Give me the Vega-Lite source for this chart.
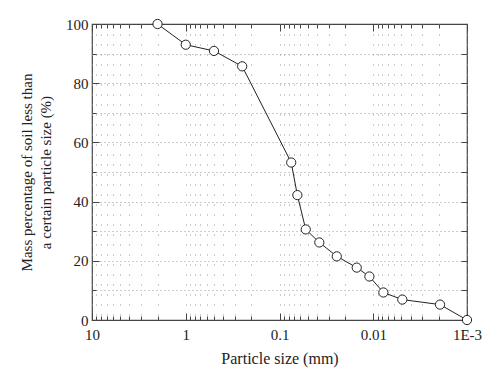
{
  "$schema": "https://vega.github.io/schema/vega-lite/v6.json",
  "width": 375,
  "height": 296,
  "autosize": "none",
  "padding": {"left": 92, "top": 24, "right": 33, "bottom": 64},
  "background": "white",
  "config": {
    "view": {"stroke": "#444", "strokeWidth": 1.2},
    "axis": {
      "labelFont": "Liberation Serif",
      "titleFont": "Liberation Serif",
      "labelFontSize": 15,
      "titleFontSize": 16,
      "titleFontWeight": "normal",
      "labelColor": "#222",
      "titleColor": "#222",
      "tickColor": "#444",
      "domain": false
    }
  },
  "data": {
    "values": [
      {"size": 2.0, "pct": 100},
      {"size": 1.0, "pct": 93.0},
      {"size": 0.5, "pct": 90.9},
      {"size": 0.25, "pct": 85.7},
      {"size": 0.075, "pct": 53.2},
      {"size": 0.0645, "pct": 42.2},
      {"size": 0.0525, "pct": 30.6},
      {"size": 0.0376, "pct": 26.2},
      {"size": 0.0245, "pct": 21.5},
      {"size": 0.015, "pct": 17.7},
      {"size": 0.011, "pct": 14.7},
      {"size": 0.0078, "pct": 9.3},
      {"size": 0.0049, "pct": 6.9},
      {"size": 0.00194, "pct": 5.2},
      {"size": 0.001, "pct": 0}
    ]
  },
  "resolve": {"axis": {"x": "independent", "y": "independent"}},
  "layer": [
    {
      "mark": {"type": "point", "opacity": 0},
      "encoding": {
        "x": {
          "field": "size", "type": "quantitative",
          "scale": {"type": "log", "domain": [0.001, 10], "reverse": true, "nice": false},
          "axis": {
            "orient": "bottom", "title": null, "labels": false,
            "values": [10,9,8,7,6,5,4,3,2,1,0.9,0.8,0.7,0.6,0.5,0.4,0.3,0.2,0.1,0.09,0.08,0.07,0.06,0.05,0.04,0.03,0.02,0.01,0.009,0.008,0.007,0.006,0.005,0.004,0.003,0.002,0.001],
            "tickSize": -4, "grid": true, "gridColor": "#999", "gridDash": [1, 9], "gridWidth": 1
          }
        },
        "y": {
          "field": "pct", "type": "quantitative",
          "scale": {"domain": [0, 100], "nice": false},
          "axis": {
            "orient": "right", "title": null, "labels": false,
            "values": [10,20,30,40,50,60,70,80,90],
            "tickSize": -6, "grid": true, "gridColor": "#999", "gridDash": [1, 3], "gridWidth": 1
          }
        }
      }
    },
    {
      "mark": {"type": "point", "opacity": 0},
      "encoding": {
        "x": {
          "field": "size", "type": "quantitative",
          "axis": {
            "orient": "top", "title": null, "labels": false,
            "values": [10,9,8,7,6,5,4,3,2,1,0.9,0.8,0.7,0.6,0.5,0.4,0.3,0.2,0.1,0.09,0.08,0.07,0.06,0.05,0.04,0.03,0.02,0.01,0.009,0.008,0.007,0.006,0.005,0.004,0.003,0.002,0.001],
            "tickSize": -4, "grid": false
          }
        },
        "y": {
          "field": "pct", "type": "quantitative",
          "axis": {
            "orient": "left", "title": null, "labels": false,
            "values": [10,30,50,70,90],
            "tickSize": -4, "grid": false
          }
        }
      }
    },
    {
      "mark": {"type": "point", "opacity": 0},
      "encoding": {
        "x": {
          "field": "size", "type": "quantitative",
          "axis": {
            "orient": "top", "title": null, "labels": false,
            "values": [10,1,0.1,0.01,0.001],
            "tickSize": -7, "grid": false
          }
        },
        "y": {"field": "pct", "type": "quantitative", "axis": null}
      }
    },
    {
      "mark": {"type": "line", "color": "#222", "strokeWidth": 1},
      "encoding": {
        "x": {
          "field": "size", "type": "quantitative",
          "axis": {
            "orient": "bottom", "title": "Particle size (mm)",
            "values": [10,1,0.1,0.01,0.001],
            "labelExpr": "datum.value >= 10 ? '10' : datum.value >= 1 ? '1' : datum.value >= 0.1 ? '0.1' : datum.value >= 0.01 ? '0.01' : '1E-3'",
            "tickSize": -7, "labelPadding": 14, "titlePadding": 8, "grid": false, "labelFlush": false
          }
        },
        "y": {
          "field": "pct", "type": "quantitative",
          "axis": {
            "orient": "left",
            "title": ["Mass percentage of soil less than", "a certain particle size (%)"],
            "values": [0,20,40,60,80,100],
            "tickSize": -7, "labelPadding": 11, "titlePadding": 12, "titleFontSize": 15, "titleLineHeight": 19, "grid": false
          }
        }
      }
    },
    {
      "mark": {"type": "point", "filled": true, "fill": "white", "stroke": "#222", "strokeWidth": 1, "size": 85, "opacity": 1},
      "encoding": {
        "x": {"field": "size", "type": "quantitative", "axis": null},
        "y": {"field": "pct", "type": "quantitative", "axis": null}
      }
    }
  ]
}
